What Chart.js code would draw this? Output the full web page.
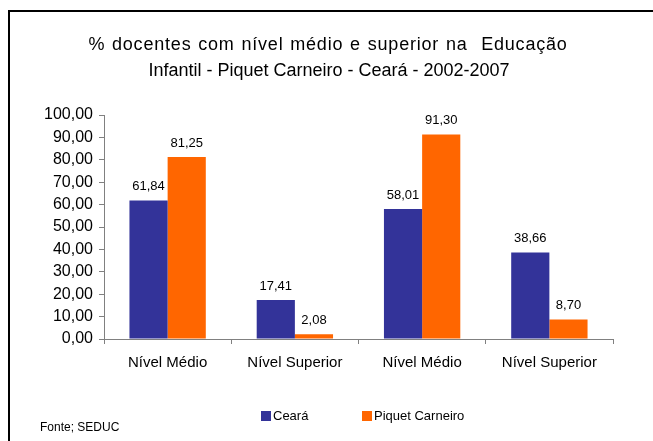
<!DOCTYPE html>
<html>
<head>
<meta charset="utf-8">
<script src="https://cdn.jsdelivr.net/npm/chart.js@4"></script>
<style>
  html, body { margin: 0; padding: 0; background: #fff; overflow: hidden; }
  #wrap { position: relative; width: 653px; height: 441px; }
  #frame { position: absolute; left: 8px; top: 10px; width: 700px; height: 500px;
           border-top: 2px solid #000; border-left: 2px solid #000; box-sizing: border-box; }
  canvas { position: absolute; left: 0; top: 0; }
</style>
</head>
<body>
<div id="wrap">
  <div id="frame"></div>
  <canvas id="c" width="653" height="441"></canvas>
</div>
<script>
const categories = ["Nível Médio", "Nível Superior", "Nível Médio", "Nível Superior"];
const cearaValues = [61.84, 17.41, 58.01, 38.66];
const piquetValues = [81.25, 2.08, 91.30, 8.70];
const seriesNames = ["Ceará", "Piquet Carneiro"];
const seriesColors = ["#333399", "#FF6600"];
const titleLines = ["% docentes com nível médio e superior na  Educação",
                    "Infantil - Piquet Carneiro - Ceará - 2002-2007"];
const sourceNote = "Fonte; SEDUC";
const yMin = 0, yMax = 100, yStep = 10;

const FONT = "'Liberation Sans', Arial, sans-serif";
const fmt = v => Number(v).toFixed(2).replace('.', ',');

const extrasPlugin = {
  id: 'extras',
  afterDraw(chart) {
    const ctx = chart.ctx;
    ctx.save();
    ctx.fillStyle = '#000';
    // title
    ctx.font = '18px ' + FONT;
    ctx.textAlign = 'center';
    ctx.textBaseline = 'middle';
    ctx.letterSpacing = '0.8px';
    ctx.wordSpacing = '1px';
    ctx.fillText(titleLines[0], 328, 45);
    ctx.letterSpacing = '0px';
    ctx.wordSpacing = '0px';
    ctx.fillText(titleLines[1], 329, 71);
    // data labels
    ctx.font = '13px ' + FONT;
    ctx.textAlign = 'center';
    ctx.textBaseline = 'middle';
    chart.data.datasets.forEach((ds, i) => {
      const meta = chart.getDatasetMeta(i);
      meta.data.forEach((el, j) => {
        ctx.fillText(fmt(ds.data[j]), el.x, el.y - 14);
      });
    });
    // legend
    ctx.font = '13px ' + FONT;
    ctx.textAlign = 'left';
    const legendY = 416;
    const starts = [261, 362];
    chart.data.datasets.forEach((ds, i) => {
      const x = starts[i];
      ctx.fillStyle = ds.backgroundColor;
      ctx.fillRect(x, legendY - 5, 10, 10);
      ctx.fillStyle = '#000';
      ctx.fillText(ds.label, x + 12, legendY);
    });
    // source
    ctx.font = '12px ' + FONT;
    ctx.fillText(sourceNote, 40, 428);
    ctx.restore();
  }
};

new Chart(document.getElementById('c'), {
  type: 'bar',
  data: {
    labels: categories,
    datasets: [
      { label: seriesNames[0], data: cearaValues, backgroundColor: seriesColors[0] },
      { label: seriesNames[1], data: piquetValues, backgroundColor: seriesColors[1] }
    ]
  },
  options: {
    responsive: false,
    animation: false,
    devicePixelRatio: 1,
    categoryPercentage: 0.6,
    barPercentage: 1.0,
    layout: { padding: { left: 0, right: 40, top: 115, bottom: 60 } },
    plugins: { legend: { display: false }, title: { display: false }, tooltip: { enabled: false } },
    scales: {
      x: {
        afterFit: s => { s.height = 42; },
        grid: { offset: true, drawOnChartArea: false, drawTicks: true, tickLength: 5, color: '#808080' },
        border: { display: true, color: '#808080', width: 1 },
        ticks: { color: '#000', font: { family: FONT, size: 15 }, padding: 10 }
      },
      y: {
        min: yMin, max: yMax,
        afterFit: s => { s.width = 104; },
        grid: { drawOnChartArea: false, drawTicks: true, tickLength: 5, color: '#808080' },
        border: { display: true, color: '#808080', width: 1 },
        ticks: { stepSize: yStep, color: '#000', font: { family: FONT, size: 16 }, padding: 6,
                 callback: v => fmt(v) }
      }
    }
  },
  plugins: [extrasPlugin]
});
</script>
</body>
</html>
